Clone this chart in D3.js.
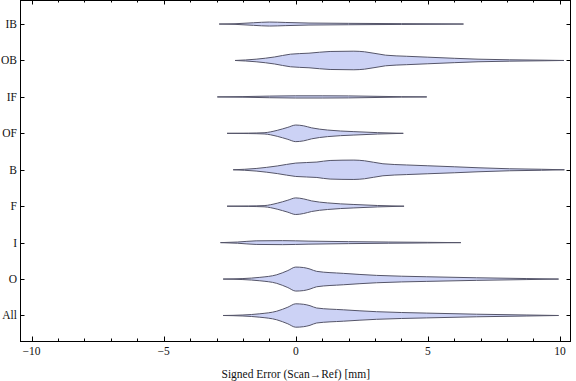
<!DOCTYPE html>
<html><head><meta charset="utf-8">
<script src="https://cdn.jsdelivr.net/npm/d3@7"></script>
<style>body{margin:0;background:#fff}svg{display:block}</style>
</head><body><svg id="c" width="576" height="381"></svg>
<script>
// categories, bottom (index 0) to top
const categories = ["All","O","I","F","B","OF","IF","OB","IB"];
const xTicksMajor = [-10,-5,0,5,10];
const xTicksMinor = [-9,-8,-7,-6,-4,-3,-2,-1,1,2,3,4,6,7,8,9];
const xLabel = "Signed Error (Scan\u2192Ref) [mm]";

// violin profiles: x positions and density
const xIB = [-2.9,-2.3,-1.6,-1.0,-0.4,0.5,2,4,5.5,6.35];
const dIB = [0,.01,.043,.067,.053,.033,.023,.013,.007,0];
const xOB = [-2.3,-1.5,-0.8,-0.2,0.5,1.3,2.2,2.6,3.4,4.2,5.0,6.0,6.9,8.1,9.4,10.15];
const dOB = [0,.043,.117,.21,.243,.30,.31,.29,.177,.14,.11,.073,.043,.023,.01,0];
const xIF = [-2.97,-2,-1,0,1,2,3,4,4.96];
const dIF = [0,.01,.027,.037,.037,.033,.02,.007,0];
const xOF = [-2.6,-1.8,-1.2,-0.7,-0.3,0,0.3,0.6,1.2,2.2,3.1,4.07];
const dOF = [0,.007,.02,.10,.20,.277,.25,.183,.11,.057,.023,0];
const xB = [-2.37,-1.5,-0.7,0,0.8,1.3,2.2,2.6,3.3,4.2,5.0,6.0,6.9,8.1,9.3,10.17];
const dB = [0,.043,.127,.223,.257,.31,.323,.30,.20,.16,.133,.10,.067,.033,.017,0];
const xF = [-2.6,-1.8,-1.2,-0.7,-0.3,0,0.3,0.6,1.2,2.2,3.1,4.1];
const dF = [0,.007,.02,.10,.20,.277,.243,.177,.11,.057,.023,0];
const xI = [-2.85,-2.2,-1.5,-0.5,0.5,2,3.5,5,6.25];
const dI = [0,.02,.06,.067,.05,.033,.02,.01,0];
const xO = [-2.75,-2,-1.36,-0.72,-0.3,0,0.3,0.54,0.79,1.8,3.06,4.96,6.85,8.75,9.95];
const dO = [0,.017,.057,.143,.283,.40,.383,.333,.257,.19,.123,.077,.043,.017,0];
const xAll = [-2.75,-2,-1.36,-0.72,-0.3,0,0.3,0.54,0.79,1.8,3.06,4.96,6.85,8.75,9.95];
const dAll = [0,.017,.057,.143,.277,.39,.373,.327,.25,.19,.127,.08,.043,.017,0];

const profiles = {All:[xAll,dAll],O:[xO,dO],I:[xI,dI],F:[xF,dF],B:[xB,dB],OF:[xOF,dOF],IF:[xIF,dIF],OB:[xOB,dOB],IB:[xIB,dIB]};

const FONT = "'Liberation Serif', 'Times New Roman', Times, serif";
const svg = d3.select("#c");
const L=20, R=571, T=0, B=341;
const x = d3.scaleLinear().domain([-10.44,10.42]).range([L,R]);
const y = d3.scaleLinear().domain([-0.7,8.66]).range([B,T]);
const w = d3.scaleLinear().domain([0,0.4]).range([0,12]);

const area = d3.area().curve(d3.curveMonotoneX);

categories.forEach((c,i)=>{
  const [xs,ds] = profiles[c];
  const pts = xs.map((v,k)=>[v,ds[k]]);
  const yc = y(i);
  area.x(d=>x(d[0])).y0(d=>yc+w(d[1])).y1(d=>yc-w(d[1]));
  svg.append("path").attr("d",area(pts))
    .attr("fill","rgb(204,210,245)")
    .attr("stroke","rgb(85,85,105)").attr("stroke-width",1).attr("stroke-linejoin","round");
});

// frame
svg.append("rect").attr("x",L+0.5).attr("y",T+0.5).attr("width",R-L-1).attr("height",B-T)
  .attr("fill","none").attr("stroke","#000").attr("stroke-width",1);

// x ticks bottom and top
const tk = svg.append("g").attr("stroke","#000").attr("stroke-width",1);
xTicksMajor.forEach(v=>{
  const px = Math.round(x(v))+0.5;
  tk.append("line").attr("x1",px).attr("x2",px).attr("y1",B).attr("y2",B-4.5);
  tk.append("line").attr("x1",px).attr("x2",px).attr("y1",T).attr("y2",T+4.5);
});
xTicksMinor.forEach(v=>{
  const px = Math.round(x(v))+0.5;
  tk.append("line").attr("x1",px).attr("x2",px).attr("y1",B).attr("y2",B-2.5);
  tk.append("line").attr("x1",px).attr("x2",px).attr("y1",T).attr("y2",T+2.5);
});
categories.forEach((c,i)=>{
  const py = Math.round(y(i))+0.5;
  tk.append("line").attr("x1",L).attr("x2",L+4.5).attr("y1",py).attr("y2",py);
  tk.append("line").attr("x1",R).attr("x2",R-4.5).attr("y1",py).attr("y2",py);
});

// labels
const txt = (xx,yy,anchor,s)=>svg.append("text").attr("x",xx).attr("y",yy)
  .attr("text-anchor",anchor).attr("font-family",FONT).attr("font-size",11.5)
  .attr("fill","#111").text(s);
xTicksMajor.forEach(v=>txt(x(v),355,"middle",v<0?"\u2212"+Math.abs(v):String(v)));
categories.forEach((c,i)=>txt(17,y(i)+4,"end",c));
txt(x(0),378,"middle",xLabel);
</script></body></html>
